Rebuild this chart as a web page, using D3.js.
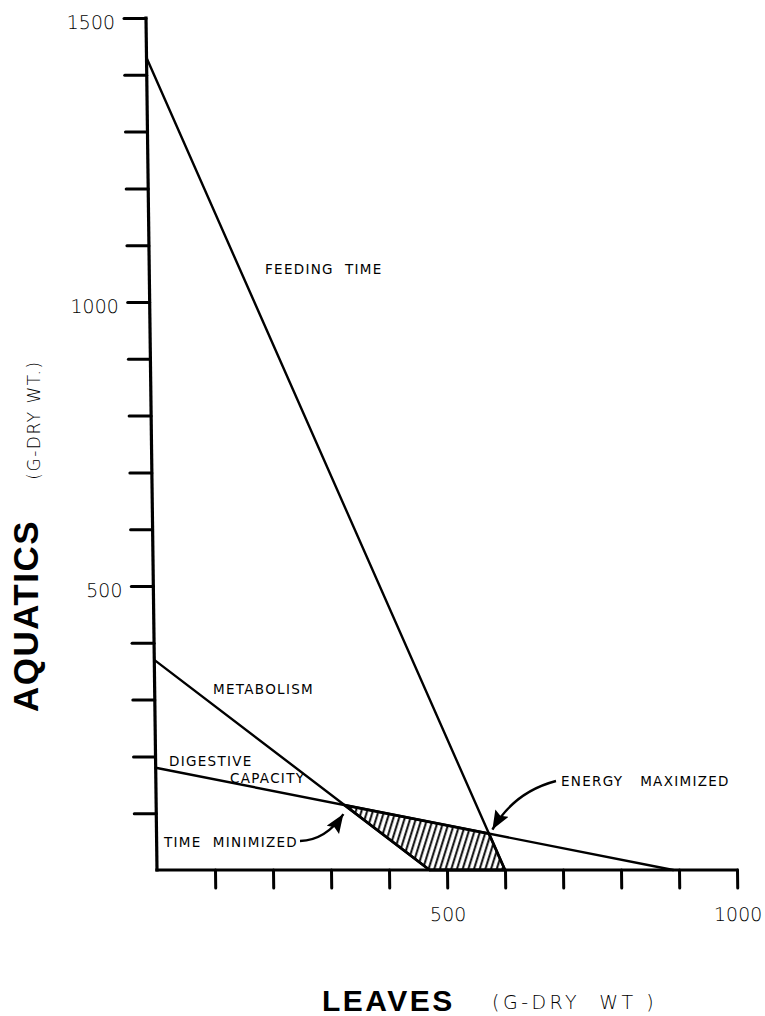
<!DOCTYPE html>
<html><head><meta charset="utf-8">
<script src="https://cdn.jsdelivr.net/npm/d3@7"></script>
<style>body{margin:0;background:#fff}svg{display:block}</style>
</head><body>
<svg id="c" width="765" height="1016"></svg>
<script>
// ---- data ----
const constraintNames = ["FEEDING TIME", "METABOLISM", "DIGESTIVE CAPACITY"];
const aquaticsIntercepts = [1430, 370, 180];   // value on the AQUATICS axis at LEAVES = 0
const leavesIntercepts   = [600, 470, 890];    // value on the LEAVES axis at AQUATICS = 0
const xTickValues = [100, 200, 300, 400, 500, 600, 700, 800, 900, 1000];
const xTickLabels = ["500", "1000"];
const yTickValues = [100, 200, 300, 400, 500, 600, 700, 800, 900, 1000, 1100, 1200, 1300, 1400, 1500];
const yTickLabels = ["500", "1000", "1500"];

// ---- setup ----
const svg = d3.select("#c");
const x = d3.scaleLinear().domain([0, 1000]).range([157, 737]);
const y = d3.scaleLinear().domain([0, 1500]).range([870, 18]);
const tilt = 11 / 852; // hand-drawn lean of the vertical axis
const plot = svg.append("g")
  .attr("transform", `translate(${-tilt * 870},0) skewX(${Math.atan(tilt) * 180 / Math.PI})`);

const numFont = "'DejaVu Sans', sans-serif";
const letFont = "'DejaVu Sans', sans-serif";

const lines = constraintNames.map((n, i) => ({name: n, a: aquaticsIntercepts[i], l: leavesIntercepts[i]}));
function lineVal(c, lv) { return c.a * (1 - lv / c.l); }
function intersect(c1, c2) {
  const s1 = -c1.a / c1.l, s2 = -c2.a / c2.l;
  const v = (c2.a - c1.a) / (s1 - s2);
  return [v, lineVal(c1, v)];
}
const [feed, metab, dig] = lines;
const pMin = intersect(metab, dig);   // time minimized
const pMax = intersect(feed, dig);    // energy maximized
const hatchPoly = [pMin, pMax, [feed.l, 0], [metab.l, 0]];

const defs = svg.append("defs");
defs.append("pattern").attr("id", "hatch").attr("patternUnits", "userSpaceOnUse")
  .attr("width", 5.4).attr("height", 20).attr("patternTransform", "rotate(18)")
  .append("line").attr("x1", 1.2).attr("x2", 1.2).attr("y1", 0).attr("y2", 20)
  .attr("stroke", "#000").attr("stroke-width", 1.9);
defs.append("marker").attr("id", "ah").attr("markerUnits", "userSpaceOnUse")
  .attr("markerWidth", 22).attr("markerHeight", 16).attr("refX", 19).attr("refY", 7.5)
  .attr("orient", "auto")
  .append("path").attr("d", "M0,0 L19,7.5 L0,15 L3,7.5 z").attr("fill", "#000");

// hatched region
plot.append("path")
  .attr("d", d3.line().x(d => x(d[0])).y(d => y(d[1]))(hatchPoly) + "Z")
  .attr("fill", "url(#hatch)").attr("stroke", "#000").attr("stroke-width", 2.8)
  .attr("stroke-linejoin", "round");

// constraint lines
plot.selectAll("line.constraint").data(lines).join("line")
  .attr("class", "constraint")
  .attr("x1", x(0)).attr("y1", d => y(d.a))
  .attr("x2", d => x(d.l)).attr("y2", y(0))
  .attr("stroke", "#000").attr("stroke-width", 2.4).attr("stroke-linecap", "round");

// axes
const yAxis = plot.append("g").attr("transform", `translate(${x(0)},0)`)
  .call(d3.axisLeft(y).tickValues(yTickValues).tickSize(22).tickSizeOuter(0).tickPadding(9)
    .tickFormat(d => yTickLabels.includes(String(d)) ? String(d) : ""));
const xAxis = plot.append("g").attr("transform", `translate(0,${y(0)})`)
  .call(d3.axisBottom(x).tickValues(xTickValues).tickSize(18).tickSizeOuter(0).tickPadding(20)
    .tickFormat(d => xTickLabels.includes(String(d)) ? String(d) : ""));
[yAxis, xAxis].forEach(ax => {
  ax.select(".domain").attr("stroke-width", 3.2).attr("stroke-linecap", "square");
  ax.selectAll(".tick line").attr("stroke-width", 3).attr("stroke-linecap", "round");
  ax.selectAll("text").attr("font-family", numFont).attr("font-weight", 200)
    .attr("font-size", 19).attr("fill", "#000");
});
yAxis.selectAll("text").attr("dy", "0.55em");
yAxis.select(".domain").attr("d", `M0,${y(1500)}V${y(0)}`);
xAxis.select(".domain").attr("d", `M${x(0)},0H${x(1000)}`);

// annotations
function label(txt, px, py) {
  return svg.append("text").attr("x", px).attr("y", py).text(txt)
    .attr("font-family", letFont).attr("font-size", 13.5)
    .attr("letter-spacing", 1.3)
    .attr("fill", "#000").style("white-space", "pre");
}
label("FEEDING  TIME", 265, 274);
label("METABOLISM", 213, 694);
label("DIGESTIVE", 169, 766);
label("CAPACITY", 230, 783);
label("TIME  MINIMIZED", 164, 847);
label("ENERGY   MAXIMIZED", 561, 786);

// arrows toward the two intersection points
const tMin = [x(pMin[0]) - 2, y(pMin[1]) + 9];
svg.append("path").attr("d", `M300,841 Q326,840 ${tMin[0]},${tMin[1]}`)
  .attr("fill", "none").attr("stroke", "#000").attr("stroke-width", 2.4).attr("marker-end", "url(#ah)");
const tMax = [x(pMax[0]) + 3, y(pMax[1]) - 4];
svg.append("path").attr("d", `M556,781 Q514,792 ${tMax[0]},${tMax[1]}`)
  .attr("fill", "none").attr("stroke", "#000").attr("stroke-width", 2.4).attr("marker-end", "url(#ah)");

// axis titles
svg.append("text").attr("transform", "translate(38,616) rotate(-90)")
  .attr("text-anchor", "middle").text("AQUATICS")
  .attr("font-family", "'Liberation Sans', Arial, sans-serif").attr("font-weight", 700)
  .attr("font-size", 35).attr("letter-spacing", 1.5);
svg.append("text").attr("transform", "translate(40,420) rotate(-90)")
  .attr("text-anchor", "middle").text("(G-DRY WT.)")
  .attr("font-family", numFont).attr("font-weight", 200).attr("font-size", 17).attr("letter-spacing", 1.5);
svg.append("text").attr("x", 322).attr("y", 1011).text("LEAVES")
  .attr("font-family", "'Liberation Sans', Arial, sans-serif").attr("font-weight", 700)
  .attr("font-size", 30).attr("letter-spacing", 2.5);
svg.append("text").attr("x", 492).attr("y", 1009).text("(G-DRY  WT )")
  .style("white-space", "pre")
  .attr("font-family", numFont).attr("font-weight", 200).attr("font-size", 19).attr("letter-spacing", 3.5);
</script>
</body></html>
